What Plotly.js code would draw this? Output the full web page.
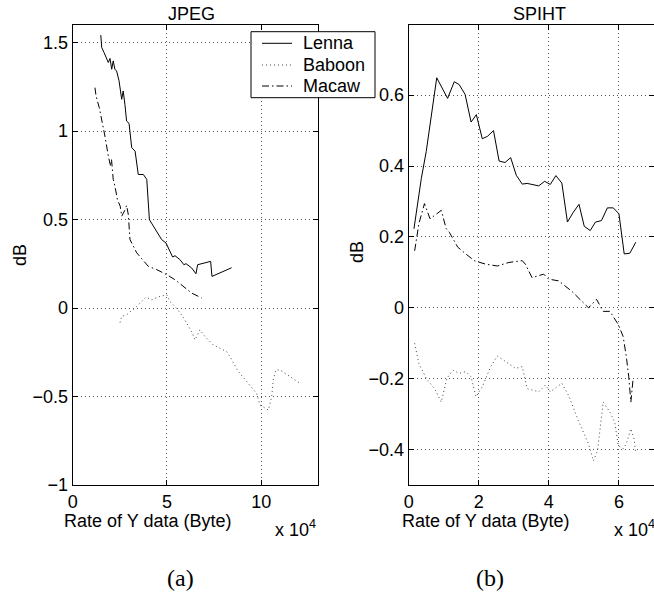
<!DOCTYPE html>
<html>
<head>
<meta charset="utf-8">
<script src="https://cdn.plot.ly/plotly-3.0.1.min.js"></script>
<style>html,body{margin:0;padding:0;background:#fff;overflow:hidden;}</style>
</head>
<body>
<div id="chart" style="width:654px;height:598px;"></div>
<script>
// x values are in units of 10^4 bytes (axis annotated "x 10^4")
const jpegLennaX = [1.49,1.54,1.66,1.80,1.89,1.98,2.07,2.15,2.24,2.33,2.46,2.60,2.68,2.77,2.86,2.99,3.13,3.31,3.48,3.75,3.93,4.07,4.46,4.72,4.95,5.30,5.43,5.69,5.90,6.01,6.31,6.54,6.63,7.32,7.39,8.43];
const jpegLennaY = [1.543,1.473,1.445,1.411,1.388,1.411,1.350,1.397,1.350,1.340,1.284,1.180,1.227,1.152,1.057,1.044,0.907,0.887,0.755,0.755,0.727,0.500,0.434,0.387,0.368,0.289,0.296,0.274,0.245,0.251,0.227,0.194,0.245,0.264,0.179,0.228];
const jpegBaboonX = [2.51,2.60,2.86,3.40,3.89,4.19,4.63,4.99,5.16,5.43,5.78,6.05,6.31,6.49,6.75,7.02,7.46,8.17,8.34,8.79,9.41,9.76,9.94,10.15,10.38,10.56,10.64,10.78,11.00,11.53,12.06];
const jpegBaboonY = [-0.082,-0.047,-0.038,0.009,0.062,0.047,0.066,0.075,0.037,0.009,-0.038,-0.085,-0.133,-0.180,-0.123,-0.161,-0.208,-0.246,-0.274,-0.359,-0.435,-0.482,-0.548,-0.561,-0.576,-0.501,-0.406,-0.350,-0.350,-0.387,-0.425];
const jpegMacawX = [1.18,1.24,1.41,1.54,1.71,1.89,2.01,2.06,2.15,2.24,2.37,2.52,2.60,2.76,2.86,2.95,3.04,3.40,4.01,4.46,4.99,5.43,5.87,6.31,6.84];
const jpegMacawY = [1.246,1.199,1.133,1.067,0.972,0.859,0.802,0.840,0.727,0.689,0.614,0.576,0.519,0.552,0.580,0.529,0.387,0.312,0.236,0.217,0.189,0.160,0.122,0.085,0.057];

const spihtLennaX = [0.15,0.36,0.50,0.80,1.11,1.30,1.44,1.61,1.78,1.93,2.10,2.25,2.42,2.58,2.75,2.91,3.07,3.24,3.38,3.54,3.71,3.88,4.04,4.20,4.37,4.53,4.70,4.86,5.01,5.18,5.33,5.50,5.67,5.84,6.00,6.15,6.31,6.48];
const spihtLennaY = [0.223,0.365,0.441,0.649,0.591,0.638,0.630,0.602,0.524,0.545,0.477,0.484,0.500,0.414,0.410,0.424,0.374,0.349,0.351,0.348,0.344,0.357,0.348,0.373,0.352,0.242,0.270,0.292,0.230,0.218,0.242,0.246,0.282,0.282,0.265,0.152,0.154,0.185];
const spihtBaboonX = [0.17,0.29,0.50,0.74,0.93,1.09,1.26,1.44,1.63,1.78,1.92,2.10,2.34,2.53,2.77,3.05,3.24,3.38,3.71,3.90,4.04,4.37,4.56,4.84,5.13,5.27,5.39,5.46,5.55,5.74,5.88,5.98,6.12,6.21,6.34,6.43,6.48];
const spihtBaboonY = [-0.100,-0.157,-0.199,-0.228,-0.266,-0.199,-0.176,-0.185,-0.180,-0.195,-0.251,-0.223,-0.166,-0.136,-0.152,-0.171,-0.166,-0.228,-0.237,-0.218,-0.237,-0.213,-0.247,-0.318,-0.384,-0.432,-0.403,-0.337,-0.266,-0.294,-0.323,-0.389,-0.398,-0.384,-0.341,-0.370,-0.408];
const spihtMacawX = [0.17,0.29,0.45,0.61,0.93,1.07,1.16,1.40,1.63,1.87,2.20,2.53,2.86,3.24,3.33,3.52,3.85,3.99,4.28,4.65,5.13,5.36,5.55,5.74,5.98,6.12,6.21,6.28,6.34,6.40];
const spihtMacawY = [0.161,0.237,0.294,0.251,0.275,0.223,0.213,0.171,0.152,0.133,0.123,0.118,0.128,0.133,0.123,0.085,0.095,0.081,0.076,0.047,0.000,0.024,-0.010,-0.010,-0.047,-0.081,-0.138,-0.195,-0.266,-0.204];

const seriesNames = ["Lenna","Baboon","Macaw"];
const panelTitles = ["JPEG","SPIHT"];
const panelLetters = ["(a)","(b)"];
const xLabel = "Rate of Y data (Byte)";
const yLabel = "dB";

const W = 654, H = 598;
const px = v => v / W;
const py = v => 1 - v / H;

const styles = [
  {color:'#000', width:1, dash:'solid'},
  {color:'#444', width:1, dash:'1px,3px'},
  {color:'#000', width:1, dash:'7px,3px,1.5px,3px'}
];

const data = [
  {x:jpegLennaX, y:jpegLennaY, name:seriesNames[0], line:styles[0], xaxis:'x', yaxis:'y'},
  {x:jpegBaboonX, y:jpegBaboonY, name:seriesNames[1], line:styles[1], xaxis:'x', yaxis:'y'},
  {x:jpegMacawX, y:jpegMacawY, name:seriesNames[2], line:styles[2], xaxis:'x', yaxis:'y'},
  {x:spihtLennaX, y:spihtLennaY, name:seriesNames[0], line:styles[0], xaxis:'x2', yaxis:'y2'},
  {x:spihtBaboonX, y:spihtBaboonY, name:seriesNames[1], line:styles[1], xaxis:'x2', yaxis:'y2'},
  {x:spihtMacawX, y:spihtMacawY, name:seriesNames[2], line:styles[2], xaxis:'x2', yaxis:'y2'}
].map(t => Object.assign({type:'scatter', mode:'lines', hoverinfo:'skip', showlegend:false}, t));

const font = {family:'"Liberation Sans", Arial, Helvetica, sans-serif', size:18, color:'#000'};
const axisBase = {
  showline:true, linecolor:'#000', linewidth:1, mirror:'ticks',
  ticks:'inside', ticklen:5, tickcolor:'#000', tickwidth:1,
  showgrid:true, gridcolor:'#555', gridwidth:1, griddash:'1px,3px',
  zeroline:false, tickfont:font, fixedrange:true
};

// Legend box (MATLAB-style) built from the series names and styles
const legBox = {x0:251, x1:375, y0:31.7, y1:97.7};
const legRows = [43.3, 65, 86];
const shapes = [
  {type:'rect', xref:'paper', yref:'paper', x0:px(legBox.x0), x1:px(legBox.x1), y0:py(legBox.y1), y1:py(legBox.y0),
   fillcolor:'#fff', line:{color:'#000', width:1}, layer:'above'}
];
const legendTexts = [];
seriesNames.forEach((n, i) => {
  shapes.push({type:'line', xref:'paper', yref:'paper', x0:px(262), x1:px(292), y0:py(legRows[i]), y1:py(legRows[i]),
               line:{color:styles[i].color, width:styles[i].width, dash:styles[i].dash}, layer:'above'});
  legendTexts.push({text:n, x:px(301), y:py(legRows[i]), xref:'paper', yref:'paper', showarrow:false, font:font,
                    xanchor:'left', yanchor:'middle'});
});

const yDom = [py(485), py(25)];
const serif = {family:'"Liberation Serif", "Times New Roman", serif', size:24, color:'#000'};
const layout = {
  width:W, height:H,
  margin:{l:0, r:0, t:0, b:0},
  paper_bgcolor:'#fff', plot_bgcolor:'#fff',
  font:font,
  showlegend:false,
  xaxis:Object.assign({}, axisBase, {domain:[px(72.7), px(317.7)], range:[0,13], tick0:0, dtick:5, anchor:'y'}),
  yaxis:Object.assign({}, axisBase, {domain:yDom, range:[-1,1.6], tick0:0, dtick:0.5, anchor:'x'}),
  xaxis2:Object.assign({}, axisBase, {domain:[px(408.7), 1], range:[0,7], tick0:0, dtick:2, anchor:'y2'}),
  yaxis2:Object.assign({}, axisBase, {domain:yDom, range:[-0.5,0.798], tick0:0, dtick:0.2, anchor:'x2'}),
  shapes:shapes,
  annotations:[
    {text:panelTitles[0], x:px(191), y:py(14), xref:'paper', yref:'paper', showarrow:false, font:font, xanchor:'center', yanchor:'middle'},
    {text:panelTitles[1], x:px(539), y:py(14), xref:'paper', yref:'paper', showarrow:false, font:font, xanchor:'center', yanchor:'middle'},
    {text:yLabel, x:px(20), y:py(255), xref:'paper', yref:'paper', showarrow:false, font:font, textangle:-90, xanchor:'center', yanchor:'middle'},
    {text:yLabel, x:px(357), y:py(252), xref:'paper', yref:'paper', showarrow:false, font:font, textangle:-90, xanchor:'center', yanchor:'middle'},
    {text:xLabel, x:px(147), y:py(521), xref:'paper', yref:'paper', showarrow:false, font:font, xanchor:'center', yanchor:'middle'},
    {text:xLabel, x:px(485), y:py(521), xref:'paper', yref:'paper', showarrow:false, font:font, xanchor:'center', yanchor:'middle'},
    {text:'x 10<sup>4</sup>', x:px(318), y:py(528), xref:'paper', yref:'paper', showarrow:false, font:font, xanchor:'right', yanchor:'middle'},
    {text:'x 10<sup>4</sup>', x:px(612), y:py(528), xref:'paper', yref:'paper', showarrow:false, font:font, xanchor:'left', yanchor:'middle'},
    {text:panelLetters[0], x:px(180), y:py(578), xref:'paper', yref:'paper', showarrow:false, font:serif, xanchor:'center', yanchor:'middle'},
    {text:panelLetters[1], x:px(490), y:py(578), xref:'paper', yref:'paper', showarrow:false, font:serif, xanchor:'center', yanchor:'middle'}
  ].concat(legendTexts)
};

Plotly.newPlot('chart', data, layout, {staticPlot:true, displayModeBar:false});
</script>
</body>
</html>
